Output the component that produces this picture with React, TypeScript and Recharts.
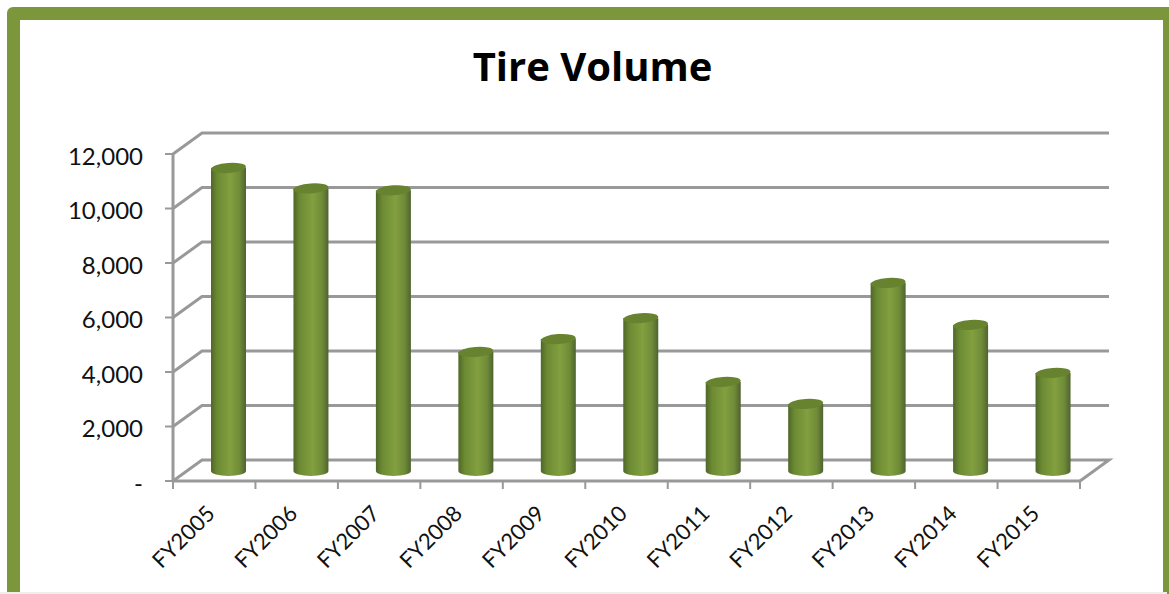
// Tire Volume - cylinder column chart with a faked 3D wall
import { BarChart, Bar, XAxis, YAxis, CartesianGrid } from 'recharts';

const categories = ['FY2005', 'FY2006', 'FY2007', 'FY2008', 'FY2009', 'FY2010', 'FY2011', 'FY2012', 'FY2013', 'FY2014', 'FY2015'];
const volumes = [11120, 10370, 10300, 4370, 4840, 5610, 3270, 2460, 6900, 5360, 3600];
const yTicks = [0, 2000, 4000, 6000, 8000, 10000, 12000];

const chartData = categories.map((name, i) => ({ name, volume: volumes[i] }));

const WIDTH = 1169;
const HEIGHT = 594;
const MARGIN = { top: 154, right: 89, left: 0, bottom: 0 };
const AXIS_W = 173;
const AXIS_H = 113;
const BAND = (WIDTH - AXIS_W - MARGIN.right) / categories.length;

// depth of the fake 3D box
const WALL_DX = 29;
const WALL_DY = -21;
const GREY = '#999999';
const FONT = 'Lato, Carlito, Calibri, sans-serif';

const GridLine = (props: any) => {
  const { x1, x2, y1 } = props;
  const floor = Math.abs(y1 - (HEIGHT - AXIS_H)) < 1;
  return (
    <polyline
      points={`${x1},${y1} ${x1 + WALL_DX},${y1 + WALL_DY} ${x2 + WALL_DX},${y1 + WALL_DY}${floor ? ` ${x2},${y1}` : ''}`}
      fill="none"
      stroke={GREY}
      strokeWidth={3}
    />
  );
};

const Cylinder = (props: any) => {
  const { x, y, width, height } = props;
  const left = x + 14;
  const top = y - 10;
  const rx = width / 2;
  const ry = 5;
  return (
    <g>
      <path
        d={`M${left},${top} L${left},${top + height} A${rx},${ry} 0 0 0 ${left + width},${top + height} L${left + width},${top} Z`}
        fill="url(#barBody)"
      />
      <ellipse
        cx={left + rx}
        cy={top}
        rx={rx}
        ry={ry}
        fill="#67832f"
        transform={`rotate(-4 ${left + rx} ${top})`}
      />
    </g>
  );
};

const XTick = (props: any) => {
  const { x, y, payload, index } = props;
  const last = index === categories.length - 1;
  const tickY = HEIGHT - AXIS_H;
  const labelX = x + 2;
  const labelY = y + 26;
  return (
    <g>
      <line x1={x - BAND / 2} x2={x - BAND / 2} y1={tickY} y2={tickY + 8} stroke={GREY} strokeWidth={2} />
      {last && <line x1={x + BAND / 2} x2={x + BAND / 2} y1={tickY} y2={tickY + 8} stroke={GREY} strokeWidth={2} />}
      <text
        x={labelX}
        y={labelY}
        textAnchor="end"
        fontFamily={FONT}
        fontSize={22}
        fill="#111"
        transform={`rotate(-45 ${labelX} ${labelY})`}
      >
        {payload.value}
      </text>
    </g>
  );
};

export default function App() {
  return (
    <div style={{ position: 'absolute', left: 0, top: 0, width: WIDTH, height: HEIGHT, overflow: 'hidden', background: '#fff' }}>
      {/* green frame, runs off the bottom of the picture */}
      <div style={{ position: 'absolute', left: 7, top: 7, width: WIDTH, height: HEIGHT + 30, boxSizing: 'border-box', border: '13px solid #7c963c', borderRadius: 6, background: '#fff' }} />
      <div style={{ position: 'absolute', left: 0, top: 592, width: WIDTH, height: 2, background: '#eeeeea' }} />
      <div style={{ position: 'absolute', left: 1167, top: 7, width: 2, height: HEIGHT, background: '#7c963c' }} />
      <div style={{ position: 'absolute', left: 0, width: 1185, top: 38, textAlign: 'center', fontFamily: '"Open Sans", sans-serif', fontWeight: 700, fontSize: 40, lineHeight: '56px', color: '#000' }}>
        Tire Volume
      </div>
      <div style={{ position: 'absolute', left: 0, top: 0 }}>
        <BarChart width={WIDTH} height={HEIGHT} data={chartData} margin={MARGIN} barCategoryGap={0}>
          <defs>
            <linearGradient id="barBody" x1="0" y1="0" x2="1" y2="0">
              <stop offset="0%" stopColor="#4f6728" />
              <stop offset="18%" stopColor="#6c8a33" />
              <stop offset="55%" stopColor="#82a03f" />
              <stop offset="82%" stopColor="#6f8b38" />
              <stop offset="100%" stopColor="#4f6330" />
            </linearGradient>
          </defs>
          <CartesianGrid vertical={false} horizontal={GridLine} />
          <XAxis
            dataKey="name"
            height={AXIS_H}
            interval={0}
            tickLine={false}
            axisLine={{ stroke: GREY, strokeWidth: 3 }}
            tick={XTick}
          />
          <YAxis
            width={AXIS_W}
            domain={[0, 12000]}
            ticks={yTicks}
            interval={0}
            tickSize={8}
            tickMargin={22}
            axisLine={{ stroke: GREY, strokeWidth: 3 }}
            tickLine={{ stroke: GREY, strokeWidth: 2 }}
            tick={{ fontFamily: FONT, fontSize: 24, fill: '#111', dy: 2 }}
            tickFormatter={(v: number) => (v === 0 ? '-' : v.toLocaleString('en-US'))}
          />
          <Bar dataKey="volume" barSize={35} shape={Cylinder} isAnimationActive={false} />
        </BarChart>
      </div>
    </div>
  );
}
